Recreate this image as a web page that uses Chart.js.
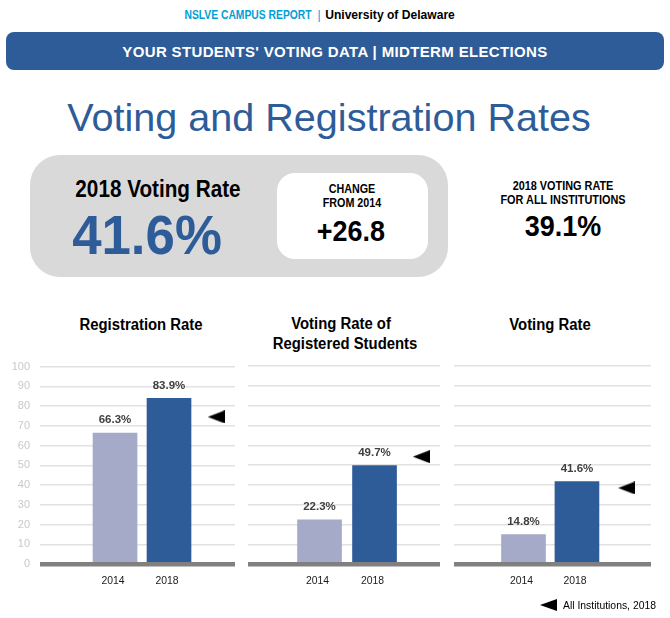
<!DOCTYPE html>
<html>
<head>
<meta charset="utf-8">
<script src="https://cdn.jsdelivr.net/npm/chart.js@4"></script>
<style>
  html, body { margin: 0; padding: 0; background: #fff; }
  body { position: relative; width: 670px; height: 618px; overflow: hidden; font-family: "Liberation Sans", Arial, sans-serif; }
  .abs { position: absolute; white-space: nowrap; }
  /* reference type is slightly condensed, --sx squeezes it */
  .mid { text-align: center; transform: translateX(-50%) scaleX(var(--sx, 1)); }
  .b { font-weight: bold; }
  canvas { position: absolute; }
</style>
</head>
<body>
  <div class="abs mid b" style="--sx:.86;left:248px;top:8px;font-size:12px;line-height:14px;color:#00a0d6">NSLVE CAMPUS REPORT</div>
  <div class="abs mid" style="left:319px;top:8px;font-size:12px;line-height:14px;color:#00a0d6">|</div>
  <div class="abs mid b" style="--sx:.93;left:390px;top:8px;font-size:13px;line-height:14px;color:#000">University of Delaware</div>
  <div class="abs" style="left:6px;top:32px;width:658px;height:38px;background:#2e5c98;border-radius:8px"></div>
  <div class="abs mid b" style="left:335px;top:43px;font-size:15px;line-height:18px;color:#fff;letter-spacing:.35px">YOUR STUDENTS' VOTING DATA | MIDTERM ELECTIONS</div>
  <div class="abs mid" style="left:329px;top:95px;font-size:39.6px;line-height:44px;color:#2e5c98">Voting and Registration Rates</div>

  <div class="abs" style="left:30px;top:155px;width:418px;height:122px;background:#d9d9d9;border-radius:30px"></div>
  <div class="abs" style="left:277px;top:173px;width:151px;height:86px;background:#fff;border-radius:18px"></div>
  <div class="abs mid b" style="--sx:.9;left:158px;top:176px;font-size:23px;line-height:26px;color:#000">2018 Voting Rate</div>
  <div class="abs mid b" style="--sx:.96;left:147px;top:203px;font-size:55px;line-height:64px;color:#2e5c98">41.6%</div>
  <div class="abs mid b" style="--sx:.86;left:352px;top:182px;font-size:12.5px;line-height:14px;color:#000">CHANGE<br>FROM 2014</div>
  <div class="abs mid b" style="--sx:.93;left:351px;top:215px;font-size:29px;line-height:32px;color:#000">+26.8</div>
  <div class="abs mid b" style="--sx:.87;left:563px;top:179px;font-size:12.5px;line-height:14px;color:#000">2018 VOTING RATE<br>FOR ALL INSTITUTIONS</div>
  <div class="abs mid b" style="--sx:.93;left:563px;top:210px;font-size:29px;line-height:32px;color:#000">39.1%</div>

  <div class="abs mid b" style="--sx:.93;left:141px;top:316px;font-size:16px;line-height:18px;color:#000">Registration Rate</div>
  <div class="abs mid b" style="--sx:.93;left:341px;top:314px;font-size:16px;line-height:20px;color:#000">Voting Rate of</div>
  <div class="abs mid b" style="--sx:.93;left:345px;top:334px;font-size:16px;line-height:20px;color:#000">Registered Students</div>
  <div class="abs mid b" style="--sx:.93;left:550px;top:316px;font-size:16px;line-height:18px;color:#000">Voting Rate</div>

  <canvas id="chartRegistration" style="left:0;top:350px"></canvas>
  <canvas id="chartRegistered" style="left:240px;top:350px"></canvas>
  <canvas id="chartVoting" style="left:446px;top:350px"></canvas>

  <div class="abs" style="left:540px;top:599px;width:0;height:0;border-top:6.5px solid transparent;border-bottom:6.5px solid transparent;border-right:17px solid #000"></div>
  <div class="abs" style="left:563px;top:600px;font-size:10.4px;line-height:12px;color:#000">All Institutions, 2018</div>

<script>
var years = [2014, 2018];
var yTicks = [0, 10, 20, 30, 40, 50, 60, 70, 80, 90, 100];
var registrationRate = [66.3, 83.9];
var registeredVotingRate = [22.3, 49.7];
var votingRate = [14.8, 41.6];
// all institutions 2018
var allInstRegistration = 74.5;
var allInstRegistered = 54.2;
var allInstVoting = 38.4;

// arrow mark is wider than the built in triangle so make our own
var arrow = document.createElement('canvas');
arrow.width = 17;
arrow.height = 13;
var actx = arrow.getContext('2d');
actx.fillStyle = '#000';
actx.beginPath();
actx.moveTo(0, 6.5);
actx.lineTo(17, 0);
actx.lineTo(17, 13);
actx.closePath();
actx.fill();

// draws the value above each bar and the thick baseline over the bars
var barValues = {
    id: 'barValues',
    afterDatasetsDraw: function (chart) {
        var c = chart.ctx;
        var meta = chart.getDatasetMeta(0);
        var area = chart.chartArea;
        c.save();
        c.fillStyle = '#808080';
        c.fillRect(area.left, chart.scales.y.getPixelForValue(0) - 2, area.right - area.left, 4.5);
        c.font = 'bold 11.5px "Liberation Sans"';
        c.fillStyle = '#404040';
        c.textAlign = 'center';
        c.textBaseline = 'middle';
        meta.data.forEach(function (bar, i) {
            c.fillText(chart.data.datasets[0].data[i].y.toFixed(1) + '%', bar.x, bar.y - 13);
        });
        c.restore();
    }
};

function makeChart(id, values, instValue, cfg) {
    var el = document.getElementById(id);
    el.width = cfg.width;
    el.height = 250;
    return new Chart(el, {
        data: {
            datasets: [{
                type: 'bar',
                data: years.map(function (y, i) { return { x: y, y: values[i] }; }),
                backgroundColor: ['#a4aac8', '#2e5c98'],
                barThickness: 44,
                order: 2
            }, {
                type: 'line',
                data: [{ x: cfg.arrowX, y: instValue }],
                showLine: false,
                pointStyle: arrow,
                order: 1
            }]
        },
        options: {
            responsive: false,
            animation: false,
            layout: { padding: { top: 16, right: cfg.right, left: 0, bottom: 0 } },
            plugins: { legend: { display: false }, tooltip: { enabled: false } },
            scales: {
                x: {
                    type: 'linear',
                    offset: false,
                    min: cfg.min,
                    max: cfg.max,
                    afterBuildTicks: function (axis) {
                        axis.ticks = years.map(function (y) { return { value: y }; });
                    },
                    afterFit: function (axis) { axis.height = 36; },
                    grid: { display: false },
                    border: { display: false },
                    ticks: {
                        autoSkip: false,
                        maxRotation: 0,
                        padding: 3,
                        labelOffset: -2,
                        color: '#1a1a1a',
                        font: { family: 'Liberation Sans', size: 10.4 },
                        callback: function (v) { return String(v); }
                    }
                },
                y: {
                    min: 0,
                    max: 100,
                    afterBuildTicks: function (axis) {
                        axis.ticks = yTicks.map(function (v) { return { value: v }; });
                    },
                    afterFit: function (axis) { axis.width = cfg.left; },
                    grid: { color: '#e2e2e2', lineWidth: 1.4, drawTicks: false },
                    border: { display: false },
                    ticks: {
                        display: cfg.showY,
                        padding: 10,
                        color: '#c9c9c9',
                        font: { family: 'Liberation Sans', size: 11 }
                    }
                }
            }
        },
        plugins: [barValues]
    });
}

makeChart('chartRegistration', registrationRate, allInstRegistration,
    { width: 240, left: 40, right: 5, min: 2008.44, max: 2022.89, showY: true, arrowX: 2021.5 });
makeChart('chartRegistered', registeredVotingRate, allInstRegistered,
    { width: 205, left: 8, right: 5, min: 2008.8, max: 2022.76, showY: false, arrowX: 2021.4 });
makeChart('chartVoting', votingRate, allInstVoting,
    { width: 210, left: 8, right: 1, min: 2008.8, max: 2023.54, showY: false, arrowX: 2021.72 });
</script>
</body>
</html>
